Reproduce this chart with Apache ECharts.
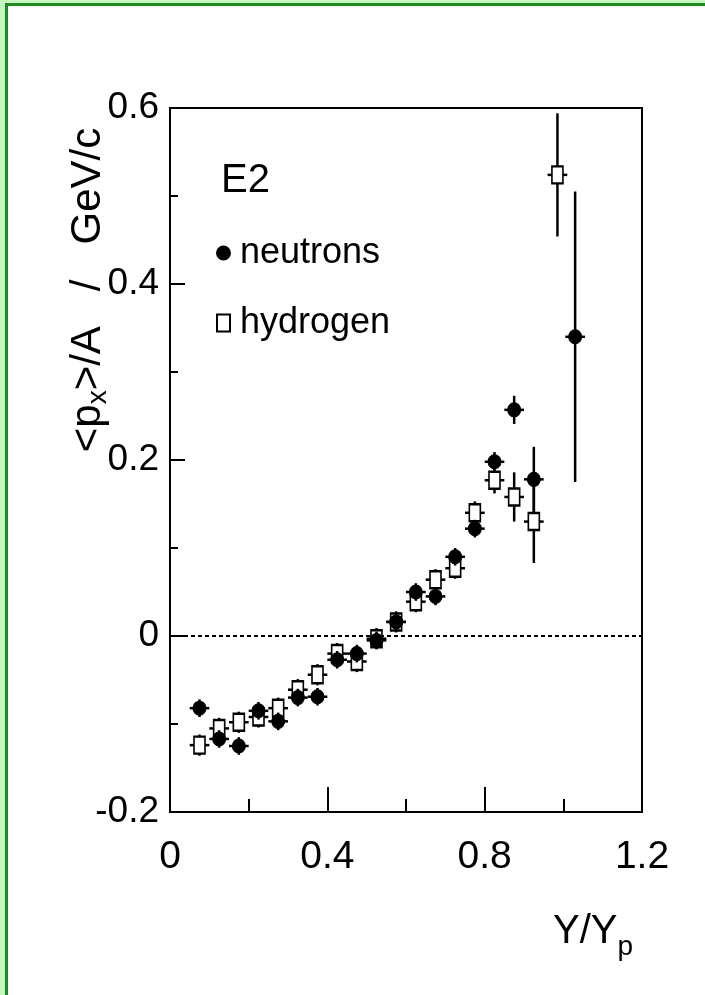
<!DOCTYPE html>
<html>
<head>
<meta charset="utf-8">
<script src="https://cdn.jsdelivr.net/npm/echarts@6/dist/echarts.min.js"></script>
<style>
  html, body { margin: 0; padding: 0; background: #fff; }
  #wrap { position: relative; width: 705px; height: 995px; overflow: hidden; background: #fff; }
  #chart { position: absolute; left: 0; top: 0; width: 705px; height: 995px; }
  .b { position: absolute; z-index: 5; }
</style>
</head>
<body>
<div id="wrap">
  <div id="chart"></div>
  <div class="b" style="left:0;top:0;width:5px;height:995px;background:#c6f7c0;"></div>
  <div class="b" style="left:0;top:0;width:705px;height:3px;background:#c6f7c0;"></div>
  <div class="b" style="left:5px;top:3px;width:3px;height:992px;background:#1f8a1f;"></div>
  <div class="b" style="left:5px;top:3px;width:700px;height:3px;background:#1f8a1f;"></div>
</div>
<script>
// ---- data ----
const xTickLabels = ['0', '0.4', '0.8', '1.2'];
const yTickLabels = ['-0.2', '0', '0.2', '0.4', '0.6'];

const neutronX   = [0.075, 0.125, 0.175, 0.225, 0.275, 0.325, 0.375, 0.425, 0.475, 0.525, 0.575, 0.625, 0.675, 0.725, 0.775, 0.825, 0.875, 0.925, 1.03];
const neutronY   = [-0.082, -0.117, -0.125, -0.085, -0.097, -0.070, -0.069, -0.027, -0.020, -0.005, 0.016, 0.050, 0.045, 0.090, 0.122, 0.198, 0.257, 0.178, 0.340];
const neutronErr = [0.010, 0.010, 0.010, 0.010, 0.010, 0.010, 0.010, 0.010, 0.010, 0.010, 0.010, 0.010, 0.010, 0.010, 0.010, 0.011, 0.016, 0.037, 0.165];

const hydrogenX   = [0.075, 0.125, 0.175, 0.225, 0.275, 0.325, 0.375, 0.425, 0.475, 0.525, 0.575, 0.625, 0.675, 0.725, 0.775, 0.825, 0.875, 0.925, 0.985];
const hydrogenY   = [-0.124, -0.105, -0.098, -0.092, -0.082, -0.061, -0.044, -0.020, -0.029, -0.003, 0.016, 0.039, 0.064, 0.077, 0.140, 0.177, 0.158, 0.130, 0.524];
const hydrogenErr = [0.012, 0.012, 0.012, 0.012, 0.012, 0.012, 0.012, 0.012, 0.012, 0.012, 0.012, 0.012, 0.012, 0.012, 0.013, 0.015, 0.028, 0.047, 0.070];

const binHalfWidth = 0.025;

// ---- build ----
const SANS = "'Liberation Sans', Arial, Helvetica, sans-serif";

function rows(xs, ys, es) {
  return xs.map((x, i) => [x, ys[i], es[i], binHalfWidth]);
}

function errRender(params, api) {
  const x = api.value(0), y = api.value(1), e = api.value(2), h = api.value(3);
  const t = api.coord([x, y + e]), b = api.coord([x, y - e]);
  const l = api.coord([x - h, y]), r = api.coord([x + h, y]);
  const st = { stroke: '#000', lineWidth: 2.5 };
  return {
    type: 'group',
    children: [
      { type: 'line', shape: { x1: t[0], y1: t[1], x2: b[0], y2: b[1] }, style: st },
      { type: 'line', shape: { x1: l[0], y1: l[1], x2: r[0], y2: r[1] }, style: st }
    ]
  };
}

const chart = echarts.init(document.getElementById('chart'), null, { renderer: 'canvas' });

const option = {
  animation: false,
  backgroundColor: '#fff',
  title: {
    text: 'E2',
    left: 216, top: 156,
    textStyle: { fontFamily: SANS, fontSize: 40, fontWeight: 'normal', color: '#000' }
  },
  legend: {
    data: ['neutrons', 'hydrogen'],
    orient: 'vertical',
    left: 211, top: 228,
    itemWidth: 13, itemHeight: 17,
    itemGap: 30,
    textStyle: { fontFamily: SANS, fontSize: 36, lineHeight: 40, color: '#000', padding: [0, 0, 0, 5] }
  },
  grid: {
    left: 170, right: 63, top: 108, bottom: 183,
    show: true, borderColor: '#000', borderWidth: 2, backgroundColor: 'transparent'
  },
  xAxis: {
    type: 'value', min: 0, max: 1.2, interval: 0.4,
    axisLine: { show: true, onZero: false, lineStyle: { color: '#000', width: 2 } },
    axisTick: { show: true, inside: true, length: 25, lineStyle: { color: '#000', width: 2 } },
    minorTick: { show: true, splitNumber: 2, length: 13, lineStyle: { color: '#000', width: 2 } },
    splitLine: { show: false },
    axisLabel: {
      margin: 26, color: '#000', fontFamily: SANS, fontSize: 39,
      formatter: (v) => xTickLabels[Math.round(v / 0.4)]
    }
  },
  yAxis: {
    type: 'value', min: -0.2, max: 0.6, interval: 0.2,
    axisLine: { show: true, onZero: false, lineStyle: { color: '#000', width: 2 } },
    axisTick: { show: true, inside: true, length: 15, lineStyle: { color: '#000', width: 2 } },
    minorTick: { show: true, splitNumber: 2, length: 8, lineStyle: { color: '#000', width: 2 } },
    splitLine: { show: false },
    axisLabel: {
      margin: 11, color: '#000', fontFamily: SANS, fontSize: 37,
      formatter: (v) => yTickLabels[Math.round((v + 0.2) / 0.2)]
    }
  },
  graphic: [
    {
      type: 'text', x: 88, y: 290, rotation: Math.PI / 2,
      style: {
        text: '<p{sub|x}>/A   /   GeV/c',
        fill: '#000', font: "42px 'Liberation Sans', Arial, sans-serif",
        align: 'center', verticalAlign: 'middle',
        rich: { sub: { fontSize: 28, fontFamily: SANS, verticalAlign: 'bottom', padding: [20, 0, 0, 0] } }
      }
    },
    {
      type: 'text', left: 553, top: 912,
      style: {
        text: 'Y/Y{sub|p}',
        fill: '#000', font: "40px 'Liberation Sans', Arial, sans-serif",
        rich: { sub: { fontSize: 28, fontFamily: SANS, padding: [30, 0, 0, 0] } }
      }
    }
  ],
  series: [
    {
      name: 'hydrogen-err', type: 'custom', renderItem: errRender, z: 2,
      data: rows(hydrogenX, hydrogenY, hydrogenErr),
      encode: { x: 0, y: 1 },
      markLine: {
        silent: true, symbol: 'none', label: { show: false },
        lineStyle: { color: '#000', type: [4, 3], width: 2 },
        data: [{ yAxis: 0 }]
      }
    },
    {
      name: 'hydrogen', type: 'scatter', z: 3,
      symbol: 'rect', symbolSize: [11, 17],
      itemStyle: { color: '#fff', borderColor: '#000', borderWidth: 2, opacity: 1 },
      data: hydrogenX.map((x, i) => [x, hydrogenY[i]])
    },
    {
      name: 'neutron-err', type: 'custom', renderItem: errRender, z: 4,
      data: rows(neutronX, neutronY, neutronErr),
      encode: { x: 0, y: 1 }
    },
    {
      name: 'neutrons', type: 'scatter', z: 5,
      symbol: 'circle', symbolSize: [13, 14],
      itemStyle: { color: '#000', borderColor: '#000', borderWidth: 1, opacity: 1 },
      data: neutronX.map((x, i) => [x, neutronY[i]])
    }
  ]
};
chart.setOption(option);
</script>
</body>
</html>
